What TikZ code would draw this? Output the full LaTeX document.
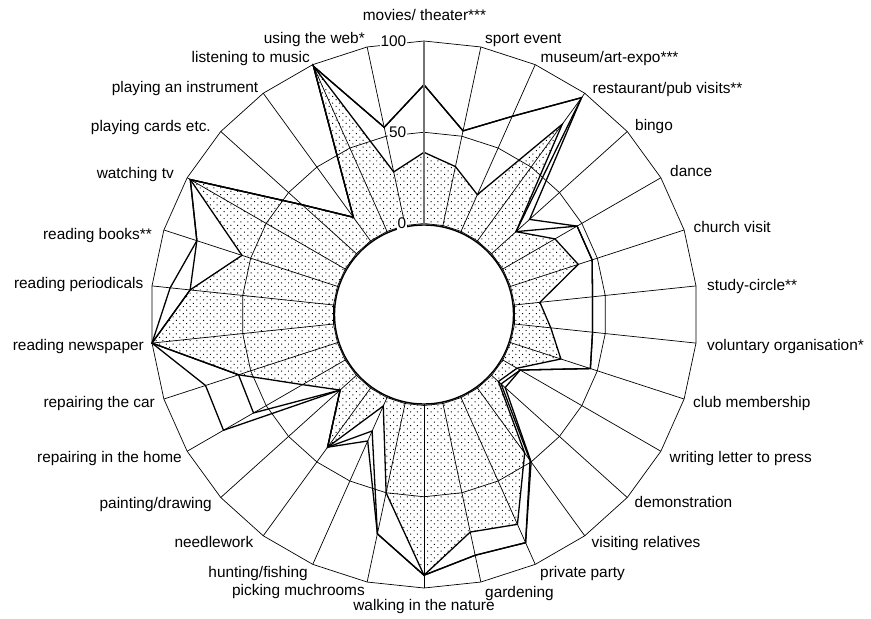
\documentclass[tikz,border=0pt]{standalone}
\usepackage{fontspec}
\setmainfont{Liberation Sans}
\usetikzlibrary{patterns.meta}
\begin{document}
\begin{tikzpicture}[x=1pt,y=-1pt,
  grid/.style={line width=0.7pt, black},
  series/.style={line width=1.3pt, black, line join=miter},
  area/.style={pattern={Dots[distance=4.8pt, radius=0.7pt, angle=45]}},
  vaxis/.style={line width=1.3pt, black!55},
  lab/.style={font=\fontsize{15.4}{18}\selectfont, inner sep=0pt, text height=10.8pt, text depth=3pt},
  axlab/.style={lab, fill=white, inner xsep=1pt, inner ysep=0pt},
  hole/.style={fill=white, draw=black, line width=1.4pt}]
\useasboundingbox (0,0) rectangle (871,619);
\coordinate (O) at (424,314.5);
% grid rings at 0, 50, 100
\foreach \g in {0,50,100}{
  \foreach \i in {0,...,29}{
    \coordinate (G\g-\i) at ({424+(91+1.825*\g)*sin(12*\i)}, {314.5-(91+1.825*\g)*cos(12*\i)});
  }
}
% data series
\foreach \v [count=\i from 0] in {39,33,22,79,18,33,39,14,20,29,9,5,44,76,72,93,50,5,40,12,27,57,100,79,55,98,40,16,99,30}{
  \coordinate (A\i) at ({424+(91+1.825*\v)*sin(12*\i)}, {314.5-(91+1.825*\v)*cos(12*\i)});
}
\foreach \v [count=\i from 0] in {76,53,69,97,28,47,47,43,43,46,11,10,50,87,85,93,73,26,40,12,77,76,100,90,81,98,40,16,99,55}{
  \coordinate (B\i) at ({424+(91+1.825*\v)*sin(12*\i)}, {314.5-(91+1.825*\v)*cos(12*\i)});
}
\foreach \v [count=\i from 0] in {76,53,69,97,18,47,47,43,43,46,11,7,49,87,85,93,73,20,40,12,58,57,100,79,81,98,40,16,99,55}{
  \coordinate (C\i) at ({424+(91+1.825*\v)*sin(12*\i)}, {314.5-(91+1.825*\v)*cos(12*\i)});
}
% dotted area
\fill[area] (A0) \foreach \i in {1,...,29}{ -- (A\i) } -- cycle;
% spokes
\foreach \i in {1,...,29}{ \draw[grid] (O) -- (G100-\i); }
% rings
\foreach \g in {0,50,100}{
  \draw[grid] (G\g-0) \foreach \i in {1,...,29}{ -- (G\g-\i) } -- cycle;
}
% series outlines
\draw[series] (A0) \foreach \i in {1,...,29}{ -- (A\i) } -- cycle;
\draw[series] (B0) \foreach \i in {1,...,29}{ -- (B\i) } -- cycle;
\draw[series] (C0) \foreach \i in {1,...,29}{ -- (C\i) } -- cycle;
% value axis
\draw[vaxis] (G0-0) -- (G100-0);
% centre hole
\node[hole, circle, minimum size=179pt, inner sep=0pt] (hole) at (O) {};
% value axis labels
\node[axlab, anchor=east] (t100) at (407.5,42.5) {100};
\node[axlab, anchor=east] (t50) at (407.5,133.3) {50};
\node[axlab, anchor=east] (t0) at (407.5,224.5) {0};
% category labels
\node[lab] (L0) at (424.5,17) {movies/ theater***};
\node[lab, anchor=west] (L1) at (485,39.5) {sport event};
\node[lab, anchor=west] (L2) at (540.5,58.5) {museum/art-expo***};
\node[lab, anchor=west] (L3) at (592.5,89.5) {restaurant/pub visits**};
\node[lab, anchor=west] (L4) at (635,126.5) {bingo};
\node[lab, anchor=west] (L5) at (670,172.5) {dance};
\node[lab, anchor=west] (L6) at (693.5,228.5) {church visit};
\node[lab, anchor=west] (L7) at (707,287) {study-circle**};
\node[lab, anchor=west] (L8) at (707,347) {voluntary organisation*};
\node[lab, anchor=west] (L9) at (693,403.5) {club membership};
\node[lab, anchor=west] (L10) at (669.5,458.5) {writing letter to press};
\node[lab, anchor=west] (L11) at (634.5,503.5) {demonstration};
\node[lab, anchor=west] (L12) at (591.5,543.5) {visiting relatives};
\node[lab, anchor=west] (L13) at (540,573.5) {private party};
\node[lab, anchor=west] (L14) at (485,593.5) {gardening};
\node[lab] (L15) at (424,607) {walking in the nature};
\node[lab, anchor=east] (L16) at (365,592) {picking muchrooms};
\node[lab, anchor=east] (L17) at (308,573.5) {hunting/fishing};
\node[lab, anchor=east] (L18) at (253.5,543.5) {needlework};
\node[lab, anchor=east] (L19) at (212,505) {painting/drawing};
\node[lab, anchor=east] (L20) at (182,458.5) {repairing in the home};
\node[lab, anchor=east] (L21) at (155,403.5) {repairing the car};
\node[lab, anchor=east] (L22) at (144,347) {reading newspaper};
\node[lab, anchor=east] (L23) at (143.5,285) {reading periodicals};
\node[lab, anchor=east] (L24) at (152,236) {reading books**};
\node[lab, anchor=east] (L25) at (174,175) {watching tv};
\node[lab, anchor=east] (L26) at (211,128) {playing cards etc.};
\node[lab, anchor=east] (L27) at (258.5,88.5) {playing an instrument};
\node[lab, anchor=east] (L28) at (310,58.5) {listening to music};
\node[lab, anchor=east] (L29) at (365,39.5) {using the web*};
\end{tikzpicture}
\end{document}
